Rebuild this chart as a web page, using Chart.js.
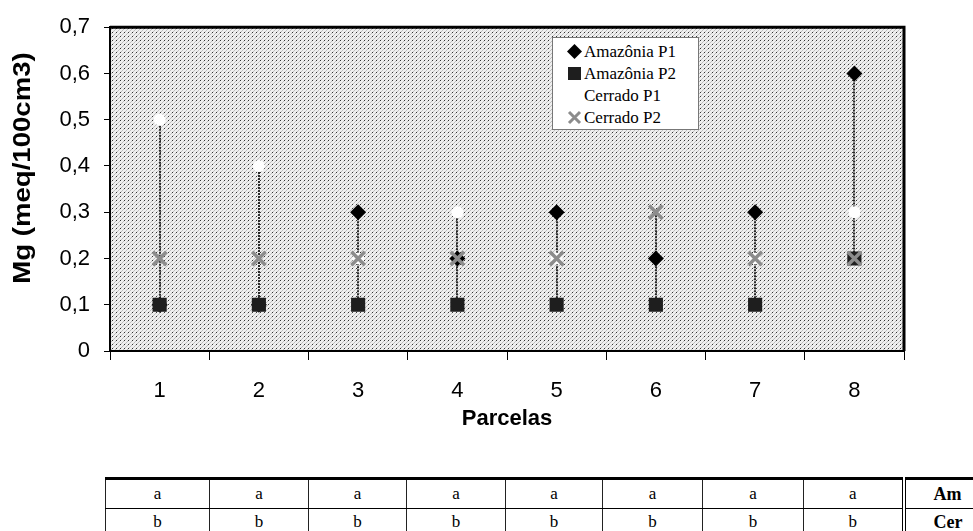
<!DOCTYPE html>
<html>
<head>
<meta charset="utf-8">
<title>Mg por parcela</title>
<script src="https://cdn.jsdelivr.net/npm/chart.js@4.4.1/dist/chart.umd.min.js"></script>
<style>
  body { margin: 0; background: #fff; width: 973px; height: 531px; overflow: hidden; position: relative; }
  #wrap { position: absolute; left: 0; top: 0; width: 973px; height: 470px; }
  #legend {
    position: absolute; left: 552px; top: 37px; width: 147px; height: 93px;
    box-sizing: border-box; background: #fff; border: 1px solid #777;
    font-family: "Liberation Serif", "Times New Roman", serif; font-size: 17px; color: #000;
    padding-top: 3px;
  }
  #legend div { height: 22px; line-height: 22px; white-space: nowrap; }
  #legend svg { display: inline-block; width: 15px; height: 15px; vertical-align: -2px; margin: 0 2px 0 14px; }
  #tabela {
    position: absolute; left: 105px; top: 477px; border-collapse: collapse; table-layout: fixed; width: 900px;
    font-family: "Liberation Serif", "Times New Roman", serif; font-size: 17px; color: #000;
  }
  #tabela td { text-align: center; border-left: 1px solid #222; padding: 0; overflow: hidden; }
  #tabela tr:first-child td { border-top: 3px solid #000; height: 28px; border-bottom: 1px solid #000; }
  #tabela tr:last-child td { height: 26px; }
  #tabela td.rot { font-weight: bold; border-left: 4px double #000; text-align: left; padding-left: 28px; font-size: 18px; }
</style>
</head>
<body>
<div id="wrap"><canvas id="grafico" width="973" height="470"></canvas></div>
<div id="legend"></div>
<table id="tabela"></table>
<script>
// parcelas e teores de Mg (meq/100cm3)
const parcelas = ['1', '2', '3', '4', '5', '6', '7', '8'];
const amazoniaP1 = [0.1, 0.1, 0.3, 0.2, 0.3, 0.2, 0.3, 0.6];
const amazoniaP2 = [0.1, 0.1, 0.1, 0.1, 0.1, 0.1, 0.1, 0.2];
const cerradoP1 = [0.5, 0.4, 0.2, 0.3, 0.2, 0.2, 0.2, 0.3];
const cerradoP2 = [0.2, 0.2, 0.2, 0.2, 0.2, 0.3, 0.2, 0.2];
const yMin = 0, yMax = 0.7, yStep = 0.1;

// letras do teste de médias
const letrasAm = ['a', 'a', 'a', 'a', 'a', 'a', 'a', 'a'];
const letrasCer = ['b', 'b', 'b', 'b', 'b', 'b', 'b', 'b'];
const colunasTabela = [104, 99, 98, 99, 97, 100, 101, 100, 102];

// fundo pontilhado da área do gráfico
function makePattern() {
  const c = document.createElement('canvas');
  c.width = 4; c.height = 4;
  const g = c.getContext('2d');
  g.fillStyle = '#efefef';
  g.fillRect(0, 0, 4, 4);
  g.fillStyle = '#333';
  g.fillRect(0, 0, 1, 1);
  g.fillStyle = '#bdbdbd';
  g.fillRect(2, 2, 1, 1);
  g.fillRect(1, 3, 1, 1);
  g.fillRect(3, 1, 1, 1);
  return g.createPattern(c, 'repeat');
}

const plotBg = {
  id: 'plotBg',
  beforeDraw(chart) {
    const { ctx, chartArea: a } = chart;
    ctx.save();
    ctx.fillStyle = makePattern();
    ctx.fillRect(a.left, a.top, a.right - a.left, a.bottom - a.top);
    ctx.restore();
  },
  afterDraw(chart) {
    const { ctx, chartArea: a } = chart;
    ctx.save();
    ctx.strokeStyle = '#000';
    ctx.lineWidth = 3;
    ctx.beginPath();
    ctx.moveTo(a.left, a.top);
    ctx.lineTo(a.right, a.top);
    ctx.lineTo(a.right, a.bottom);
    ctx.stroke();
    ctx.restore();
  }
};

// título do eixo y, um pouco esticado no sentido do texto
const yTitulo = {
  id: 'yTitulo',
  afterDraw(chart) {
    const { ctx } = chart;
    ctx.save();
    ctx.translate(24, 168);
    ctx.rotate(-Math.PI / 2);
    ctx.scale(1.2, 1);
    ctx.font = 'bold 23px Arial, "Liberation Sans", sans-serif';
    ctx.fillStyle = '#000';
    ctx.textAlign = 'center';
    ctx.textBaseline = 'middle';
    ctx.fillText('Mg (meq/100cm3)', 0, 0);
    ctx.restore();
  }
};

// linhas máximo-mínimo em cada parcela
const hiLo = {
  id: 'hiLo',
  beforeDatasetsDraw(chart) {
    const { ctx, scales: { x, y } } = chart;
    ctx.save();
    ctx.strokeStyle = '#2a2a2a';
    ctx.lineWidth = 2;
    ctx.setLineDash([2, 1]);
    parcelas.forEach((p, i) => {
      const vals = chart.data.datasets.map(d => d.data[i]);
      const px = Math.round(x.getPixelForValue(i));
      ctx.beginPath();
      ctx.moveTo(px, y.getPixelForValue(Math.max(...vals)));
      ctx.lineTo(px, y.getPixelForValue(Math.min(...vals)));
      ctx.stroke();
    });
    ctx.restore();
  }
};

const fmt = v => (v === 0 ? '0' : v.toFixed(1).replace('.', ','));
const arial = 'Arial, "Liberation Sans", sans-serif';

new Chart(document.getElementById('grafico'), {
  type: 'line',
  data: {
    labels: parcelas,
    datasets: [
      { label: 'Amazônia P1', data: amazoniaP1, order: 2, showLine: false,
        pointStyle: 'rectRot', pointRadius: 8, backgroundColor: '#000', borderColor: '#000', borderWidth: 0 },
      { label: 'Amazônia P2', data: amazoniaP2, order: 1, showLine: false,
        pointStyle: 'rect', pointRadius: 10, backgroundColor: '#1e1e1e', borderColor: '#1e1e1e', borderWidth: 0 },
      { label: 'Cerrado P1', data: cerradoP1, order: 3, showLine: false,
        pointStyle: 'circle', pointRadius: 6, backgroundColor: '#fff', borderColor: '#fff', borderWidth: 0 },
      { label: 'Cerrado P2', data: cerradoP2, order: 0, showLine: false,
        pointStyle: 'crossRot', pointRadius: 9.5, backgroundColor: '#8c8c8c', borderColor: '#8c8c8c', borderWidth: 3.5 }
    ]
  },
  options: {
    responsive: false,
    animation: false,
    events: [],
    layout: { padding: { left: 0, top: 24, right: 69, bottom: 0 } },
    plugins: { legend: { display: false }, tooltip: { enabled: false } },
    scales: {
      x: {
        type: 'category',
        offset: true,
        afterFit(s) { s.height = 119; },
        grid: { offset: true, drawOnChartArea: false, drawTicks: true, tickLength: 9, color: '#000', lineWidth: 1 },
        border: { display: true, color: '#000', width: 2 },
        ticks: { color: '#000', padding: 18, font: { family: arial, size: 22 } },
        title: { display: true, text: 'Parcelas', color: '#000', padding: { top: 0, bottom: 38 },
          font: { family: arial, size: 22, weight: 'bold' } }
      },
      y: {
        min: yMin, max: yMax,
        afterFit(s) { s.width = 110; },
        afterBuildTicks(s) {
          const t = [];
          for (let k = 0; k <= Math.round((yMax - yMin) / yStep); k++) t.push({ value: +(yMin + k * yStep).toFixed(1) });
          s.ticks = t;
        },
        grid: { drawOnChartArea: false, drawTicks: true, tickLength: 6, color: '#000' },
        border: { display: true, color: '#000', width: 2 },
        ticks: { color: '#000', padding: 14, callback: v => fmt(v), font: { family: arial, size: 22 } },
        title: { display: false }
      }
    }
  },
  plugins: [plotBg, hiLo, yTitulo]
});

// legenda
const marcadores = {
  'Amazônia P1': '<polygon points="7.5,0 15,7.5 7.5,15 0,7.5" fill="#000"/>',
  'Amazônia P2': '<rect x="1" y="1" width="13" height="13" fill="#1e1e1e"/>',
  'Cerrado P1': '',
  'Cerrado P2': '<path d="M2 2 L13 13 M13 2 L2 13" stroke="#8c8c8c" stroke-width="3"/>'
};
document.getElementById('legend').innerHTML = Object.keys(marcadores)
  .map(n => `<div><svg viewBox="0 0 15 15">${marcadores[n]}</svg>${n}</div>`).join('');

// tabela de letras
const tab = document.getElementById('tabela');
tab.innerHTML = '<colgroup>' + colunasTabela.map(w => `<col style="width:${w}px">`).join('') + '</colgroup>';
const linha = (letras, rotulo) => '<tr>' + letras.map(l => `<td>${l}</td>`).join('') + `<td class="rot">${rotulo}</td></tr>`;
tab.innerHTML += linha(letrasAm, 'Am') + linha(letrasCer, 'Cer');
</script>
</body>
</html>
